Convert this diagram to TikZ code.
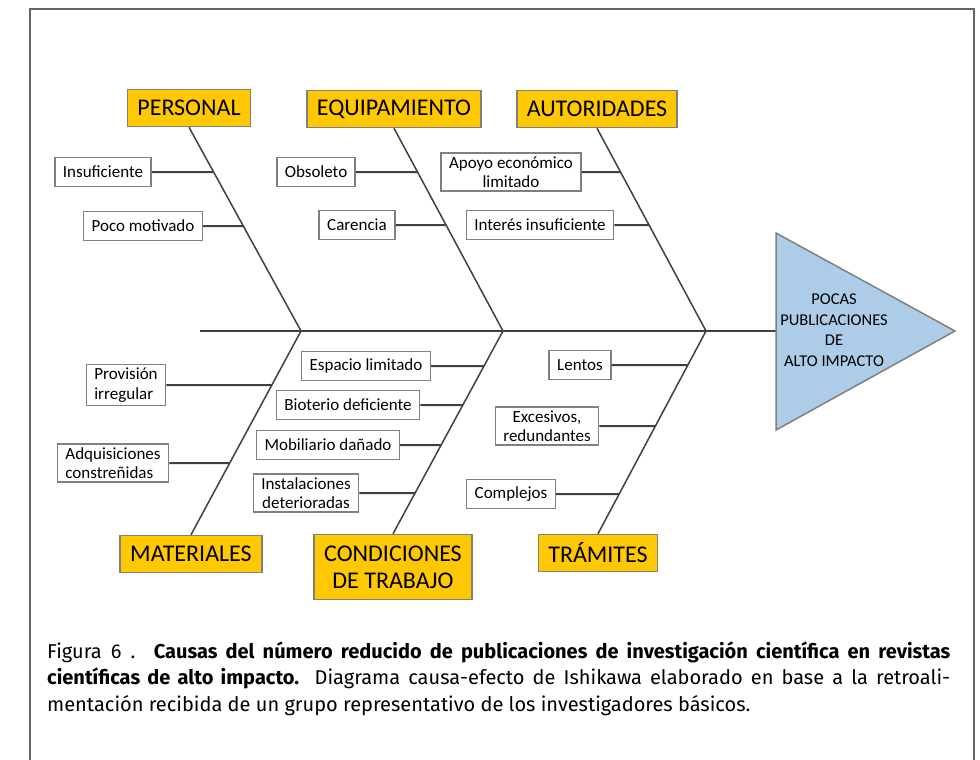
\documentclass[tikz,border=0pt]{standalone}
\usepackage{fontspec}
\setmainfont{Carlito}
\newfontfamily\capfont{Fira Sans}
\usepackage{xcolor}
\usepackage{tikz}

\definecolor{oro}{RGB}{255,200,0}
\definecolor{celeste}{RGB}{172,204,232}
\definecolor{borde}{RGB}{128,128,128}
\definecolor{linea}{RGB}{64,64,64}

\begin{document}
\begin{tikzpicture}[x=1pt,y=-1pt,
  categoria/.style={draw=borde,line width=1.5pt,fill=oro,font=\fontsize{24}{27}\selectfont,inner xsep=10pt,minimum height=37pt,align=center},
  causa/.style={draw=borde,line width=1.5pt,fill=white,font=\fontsize{17}{19.5}\selectfont,inner xsep=8pt,minimum height=29pt,align=center},
  espina/.style={draw=linea,line width=1.5pt},
  rama/.style={draw=linea,line width=2pt}]

\useasboundingbox (0,0) rectangle (980,760);
\draw[draw=black!60,line width=2pt] (30,760) -- (30,9) -- (974,9) -- (974,760);

\coordinate (cola) at (200,331);
\coordinate (j1) at (301,331);
\coordinate (j2) at (503,331);
\coordinate (j3) at (706,331);
\coordinate (ef1) at (776,233);
\coordinate (ef2) at (955,331);
\coordinate (ef3) at (776,430);
\coordinate (efb) at (776,331);

\draw[espina,line width=2pt] (cola) -- (efb);
\draw[draw=borde,fill=celeste,line width=1.5pt] (ef1) -- (ef2) -- (ef3) -- cycle;
\node[font=\fontsize{16.5}{20.5}\selectfont,align=center] (efecto) at (834,330) {POCAS\\PUBLICACIONES\\DE\\ALTO IMPACTO};

\node[categoria] (per) at (189,108) {PERSONAL};
\node[categoria] (equ) at (394,109) {EQUIPAMIENTO};
\node[categoria] (aut) at (597,109) {AUTORIDADES};
\node[categoria] (mat) at (191,554) {MATERIALES};
\node[categoria,minimum height=65pt] (con) at (393,567) {CONDICIONES\\DE TRABAJO};
\node[categoria] (tra) at (598,553) {TRÁMITES};

\foreach \c/\j in {per.south/j1,equ.south/j2,aut.south/j3,mat.north/j1,con.north/j2,tra.north/j3}{
\draw[espina] (\c) -- (\j);
}

\node[causa] (ins) at (103,172) {Insuficiente};
\node[causa] (poc) at (143,226) {Poco motivado};
\node[causa] (obs) at (316,172) {Obsoleto};
\node[causa] (car) at (357,225) {Carencia};
\node[causa] (apo) at (511,172) {Apoyo económico\\limitado};
\node[causa] (int) at (540,225) {Interés insuficiente};
\node[causa,align=left] (pro) at (126,385) {Provisión\\irregular};
\node[causa,align=left] (adq) at (113,463) {Adquisiciones\\constreñidas};
\node[causa] (esp) at (366,366) {Espacio limitado};
\node[causa] (bio) at (348,405) {Bioterio deficiente};
\node[causa] (mob) at (328,445) {Mobiliario dañado};
\node[causa] (ist) at (306,493) {Instalaciones\\deterioradas};
\node[causa] (len) at (580,365) {Lentos};
\node[causa] (exc) at (547,426) {Excesivos,\\redundantes};
\node[causa] (com) at (511,494) {Complejos};

\foreach \s/\c/\j in {ins/per.south/j1,poc/per.south/j1,obs/equ.south/j2,car/equ.south/j2,apo/aut.south/j3,int/aut.south/j3,pro/mat.north/j1,adq/mat.north/j1,esp/con.north/j2,bio/con.north/j2,mob/con.north/j2,ist/con.north/j2,len/tra.north/j3,exc/tra.north/j3,com/tra.north/j3}{
\draw[rama] (\s.east) -- (intersection of \s.east--\s.west and \c--\j);
}

\node[anchor=base west,inner sep=0pt,font=\capfont\fontsize{20}{22}\selectfont] (pie1) at (47,658) {\makebox[903pt][s]{Figura 6 . \textbf{Causas del número reducido de publicaciones de investigación científica en revistas}}};
\node[anchor=base west,inner sep=0pt,font=\capfont\fontsize{20}{22}\selectfont] (pie2) at (47,684) {\makebox[903pt][s]{\textbf{científicas de alto impacto.} Diagrama causa-efecto de Ishikawa elaborado en base a la retroali-}};
\node[anchor=base west,inner sep=0pt,font=\capfont\fontsize{20}{22}\selectfont] (pie3) at (47,711) {mentación recibida de un grupo representativo de los investigadores básicos.};

\end{tikzpicture}
\end{document}
